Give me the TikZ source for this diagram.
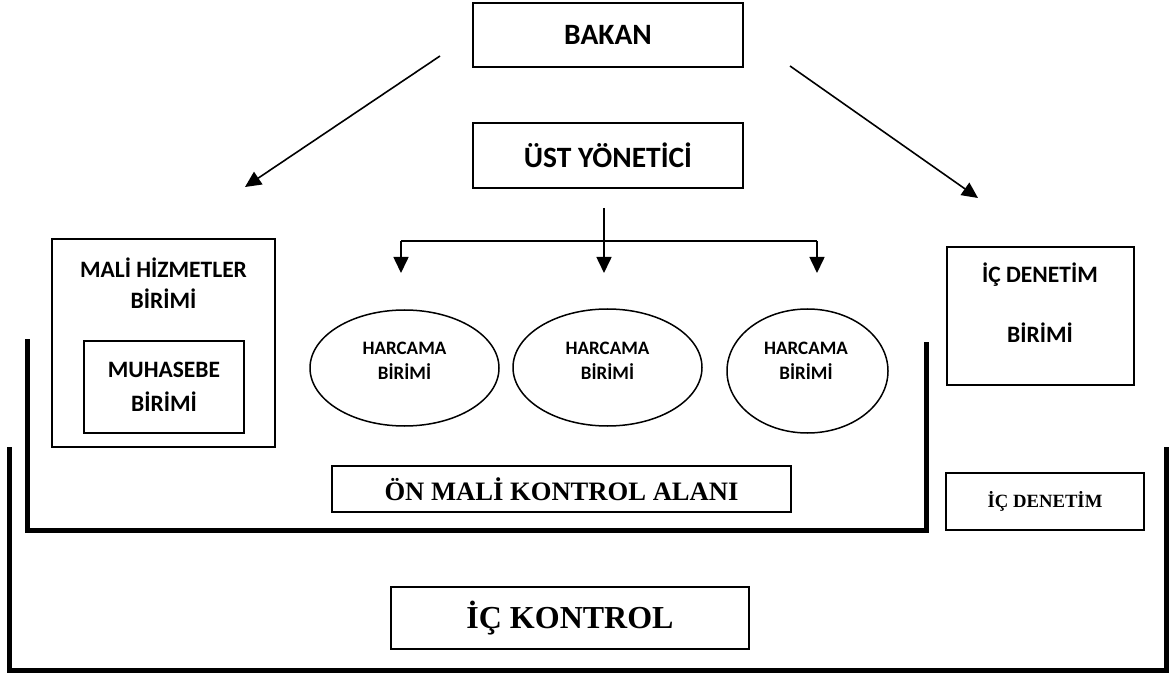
\documentclass[tikz,border=0pt]{standalone}
\usepackage{fontspec}
\setmainfont{Liberation Serif}
\newfontfamily\calibri{Carlito}
\usepackage{tikz}
\usetikzlibrary{shapes.geometric, arrows.meta, positioning, calc}
\tikzstyle{box} = [rectangle, draw=black, line width=1.5pt, inner sep=0pt, text centered]
\tikzstyle{unit} = [ellipse, draw=black, line width=1.5pt, inner sep=0pt]
\tikzstyle{arrow} = [line width=1.6pt,-{Triangle[length=16pt,width=15pt]}]
\tikzstyle{frame} = [line width=5pt, line join=miter]
\newcommand{\bigsans}{\calibri\bfseries\fontsize{29.5}{34}\selectfont}
\newcommand{\midsans}{\calibri\bfseries\fontsize{23.5}{31}\selectfont}
\newcommand{\smallsans}{\calibri\bfseries\fontsize{19}{25.5}\selectfont}

\begin{document}
\begin{tikzpicture}[x=1pt, y=-1pt, every node/.style={align=center}]
  \useasboundingbox (0,0) rectangle (1170,676);
  % Top
  \node[box, minimum width=270pt, minimum height=64pt, font=\bigsans] (bakan) at (608,35) {BAKAN};
  \node[box, minimum width=270pt, minimum height=65pt, font=\bigsans] (ust) at (608,155.5) {ÜST YÖNETİCİ};
  % Left side
  \node[box, minimum width=223pt, minimum height=208pt] (mali) at (163.5,343) {};
  \node[font=\midsans] (maliText) at (163.5,283) {MALİ HİZMETLER\\BİRİMİ};
  \node[box, minimum width=160pt, minimum height=92pt, font=\calibri\bfseries\fontsize{23.5}{34}\selectfont] (muhasebe) at (164,387) {MUHASEBE\\BİRİMİ};
  % Right side
  \node[box, minimum width=187pt, minimum height=138pt] (icbirim) at (1040.5,316) {};
  \node[font=\calibri\bfseries\fontsize{23.5}{60}\selectfont] (icbirimText) at (1040,303) {İÇ DENETİM\\BİRİMİ};
  % Spending units
  \node[unit, minimum width=189pt, minimum height=116pt] (harcama1) at (404.5,368) {};
  \node[unit, minimum width=189pt, minimum height=117pt] (harcama2) at (607.5,367.5) {};
  \node[unit, minimum width=161pt, minimum height=124pt] (harcama3) at (807.5,371) {};
  \node[font=\smallsans] (h1Text) at (404.5,361) {HARCAMA\\BİRİMİ};
  \node[font=\smallsans] (h2Text) at (607.5,361) {HARCAMA\\BİRİMİ};
  \node[font=\smallsans] (h3Text) at (806,361) {HARCAMA\\BİRİMİ};
  % Areas
  \node[box, minimum width=459pt, minimum height=46pt, font=\bfseries\fontsize{26.6}{30}\selectfont] (onmali) at (561.5,489) {ÖN MALİ KONTROL ALANI};
  \node[box, minimum width=198pt, minimum height=57pt, font=\bfseries\fontsize{18.7}{22}\selectfont] (icdenetim) at (1045,501.5) {İÇ DENETİM};
  \node[box, minimum width=358pt, minimum height=62pt, font=\bfseries\fontsize{32}{36}\selectfont] (ickontrol) at (570,618) {İÇ KONTROL};

  \coordinate (bakanL) at (440,56);
  \coordinate (maliTop) at (245,187);
  \coordinate (bakanR) at (790,66);
  \coordinate (icTop) at (978,198);
  \coordinate (ustOut) at (604,208);
  \coordinate (fork) at (604,241);
  \coordinate (forkL) at (401,241);
  \coordinate (forkR) at (817,241);

  \draw[arrow] (bakanL) -- (maliTop);
  \draw[arrow] (bakanR) -- (icTop);
  \draw[arrow] (ustOut) -- ($(fork)+(0,32)$);
  \draw[line width=1.6pt] (forkL) -- (forkR);
  \draw[arrow] (forkL) -- ++(0,32);
  \draw[arrow] (forkR) -- ++(0,32);

  % Brackets
  \draw[frame] (27.5,339) -- (27.5,530) -- (926.5,530) -- (926.5,342);
  \draw[frame] (9,447) -- (9,670) -- (1166,670) -- (1166,447);
\end{tikzpicture}
\end{document}
